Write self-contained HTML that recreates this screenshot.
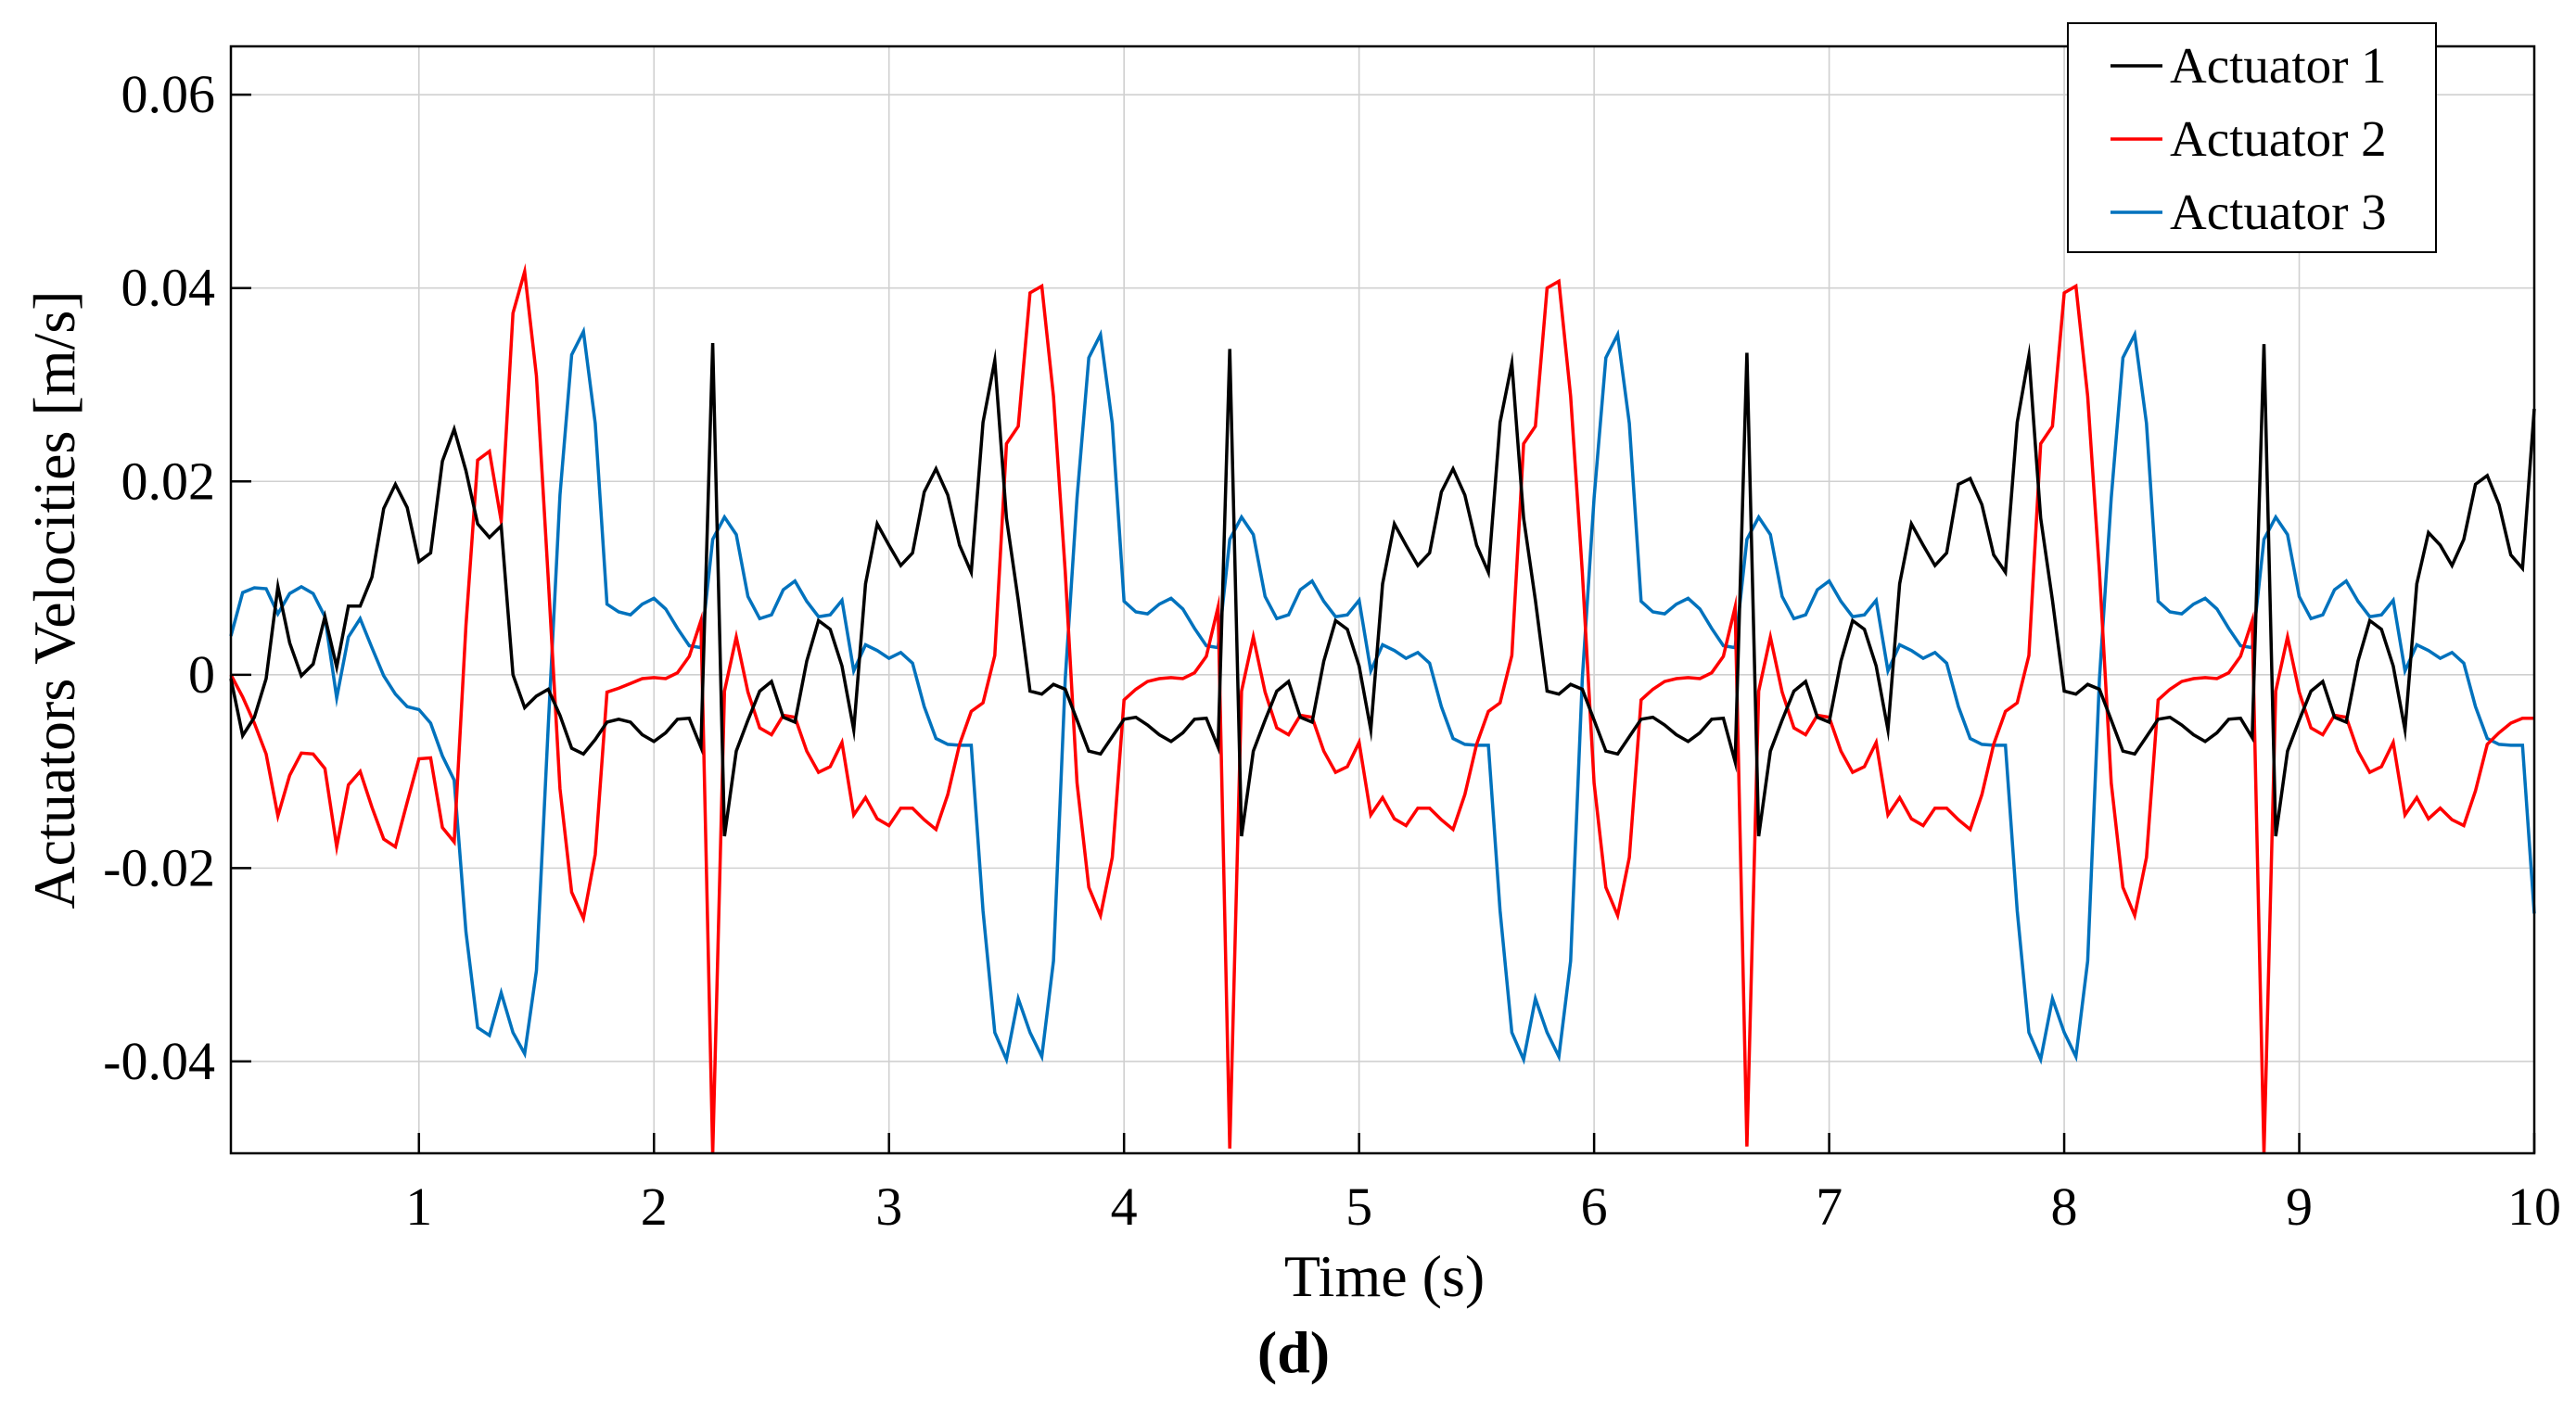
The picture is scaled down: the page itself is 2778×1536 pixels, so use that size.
<!DOCTYPE html>
<html><head><meta charset="utf-8"><style>
html,body{margin:0;padding:0;background:#fff;}
svg{display:block;font-family:"Liberation Serif",serif;}
</style></head>
<body>
<svg id="chart" width="2778" height="1536" viewBox="0 0 2778 1536" xmlns="http://www.w3.org/2000/svg">
<rect x="0" y="0" width="2778" height="1536" fill="#fff"/>
<g id="grid"></g>
<g id="series"></g>
<rect x="249" y="50" width="2484" height="1194" fill="none" stroke="#000" stroke-width="2.5"/>
<g id="ticks"></g>
<text x="1493" y="1398" font-size="64" text-anchor="middle">Time (s)</text>
<text transform="translate(80,647) rotate(-90)" font-size="64" text-anchor="middle">Actuators Velocities [m/s]</text>
<text x="1395" y="1480" font-size="64" font-weight="bold" text-anchor="middle">(d)</text>
<g>
<rect x="2230" y="25" width="397" height="247" fill="#fff" stroke="#000" stroke-width="2"/>
<line x1="2276" y1="71" x2="2332" y2="71" stroke="#000" stroke-width="3.5"/>
<text x="2340" y="89" font-size="55">Actuator 1</text>
<line x1="2276" y1="150" x2="2332" y2="150" stroke="#ff0000" stroke-width="3.5"/>
<text x="2340" y="168" font-size="55">Actuator 2</text>
<line x1="2276" y1="229" x2="2332" y2="229" stroke="#0072bd" stroke-width="3.5"/>
<text x="2340" y="247" font-size="55">Actuator 3</text>
</g>
</svg>
<script>
// values in units of 0.01 m/s, sampled every 0.05 s starting at t = 0.2 s
const startTime = 0.2;
const timeStep = 0.05;
const xTicks = [1,2,3,4,5,6,7,8,9,10];
const xTickLabels = ["1","2","3","4","5","6","7","8","9","10"];
const yTicks = [-0.04,-0.02,0,0.02,0.04,0.06];
const yTickLabels = ["-0.04","-0.02","0","0.02","0.04","0.06"];
const actuator1 = [-0.04,-0.63,-0.44,-0.04,0.91,0.33,-0.01,0.11,0.6,0.08,0.71,0.71,1.01,1.72,1.97,1.73,1.17,1.26,2.21,2.54,2.11,1.56,1.42,1.54,0,-0.34,-0.22,-0.15,-0.42,-0.76,-0.82,-0.67,-0.49,-0.46,-0.49,-0.62,-0.69,-0.6,-0.46,-0.45,-0.75,
3.43,-1.67,-0.79,-0.47,-0.17,-0.07,-0.44,-0.49,0.14,0.56,0.47,0.09,-0.57,0.94,1.56,1.34,1.13,1.26,1.89,2.13,1.86,1.34,1.06,2.61,3.25,1.62,0.77,-0.17,-0.2,-0.1,-0.15,-0.47,-0.79,-0.82,-0.64,-0.46,-0.44,-0.52,-0.62,-0.69,-0.6,-0.46,-0.45,-0.75,
3.37,-1.67,-0.79,-0.47,-0.17,-0.07,-0.44,-0.49,0.14,0.56,0.47,0.09,-0.57,0.94,1.56,1.34,1.13,1.26,1.89,2.13,1.86,1.34,1.06,2.61,3.22,1.62,0.77,-0.17,-0.2,-0.1,-0.15,-0.47,-0.79,-0.82,-0.64,-0.46,-0.44,-0.52,-0.62,-0.69,-0.6,-0.46,-0.45,-0.9,
3.33,-1.67,-0.79,-0.47,-0.17,-0.07,-0.44,-0.49,0.14,0.56,0.47,0.09,-0.57,0.94,1.56,1.34,1.13,1.26,1.97,2.03,1.76,1.24,1.06,2.61,3.3,1.62,0.77,-0.17,-0.2,-0.1,-0.15,-0.47,-0.79,-0.82,-0.64,-0.46,-0.44,-0.52,-0.62,-0.69,-0.6,-0.46,-0.45,-0.65,
3.42,-1.67,-0.79,-0.47,-0.17,-0.07,-0.44,-0.49,0.14,0.56,0.47,0.09,-0.57,0.94,1.47,1.34,1.13,1.4,1.97,2.06,1.76,1.24,1.1,2.75];
const actuator2 = [0,-0.23,-0.5,-0.82,-1.46,-1.04,-0.81,-0.82,-0.97,-1.78,-1.14,-1.0,-1.37,-1.7,-1.78,-1.32,-0.87,-0.86,-1.58,-1.73,0.51,2.22,2.31,1.59,3.74,4.17,3.09,1.0,-1.18,-2.25,-2.52,-1.86,-0.18,-0.14,-0.09,-0.04,-0.03,-0.04,0.02,0.19,0.56,
-4.96,-0.17,0.39,-0.18,-0.55,-0.62,-0.42,-0.44,-0.79,-1.01,-0.95,-0.7,-1.45,-1.27,-1.49,-1.56,-1.38,-1.38,-1.5,-1.6,-1.24,-0.72,-0.38,-0.29,0.2,2.39,2.57,3.95,4.02,2.88,1.06,-1.12,-2.2,-2.49,-1.89,-0.26,-0.15,-0.07,-0.04,-0.03,-0.04,0.02,0.19,0.7,
-4.9,-0.17,0.39,-0.18,-0.55,-0.62,-0.42,-0.44,-0.79,-1.01,-0.95,-0.7,-1.45,-1.27,-1.49,-1.56,-1.38,-1.38,-1.5,-1.6,-1.24,-0.72,-0.38,-0.29,0.2,2.39,2.57,4.0,4.07,2.88,1.06,-1.12,-2.2,-2.49,-1.89,-0.26,-0.15,-0.07,-0.04,-0.03,-0.04,0.02,0.19,0.7,
-4.88,-0.17,0.39,-0.18,-0.55,-0.62,-0.42,-0.44,-0.79,-1.01,-0.95,-0.7,-1.45,-1.27,-1.49,-1.56,-1.38,-1.38,-1.5,-1.6,-1.24,-0.72,-0.38,-0.29,0.2,2.39,2.57,3.95,4.02,2.88,1.06,-1.12,-2.2,-2.49,-1.89,-0.26,-0.15,-0.07,-0.04,-0.03,-0.04,0.02,0.19,0.56,
-4.96,-0.17,0.39,-0.18,-0.55,-0.62,-0.42,-0.44,-0.79,-1.01,-0.95,-0.7,-1.45,-1.27,-1.49,-1.38,-1.5,-1.56,-1.2,-0.72,-0.6,-0.5,-0.45,-0.45];
const actuator3 = [0.4,0.85,0.9,0.89,0.63,0.84,0.91,0.84,0.6,-0.24,0.39,0.58,0.28,-0.01,-0.2,-0.33,-0.36,-0.5,-0.84,-1.09,-2.66,-3.65,-3.73,-3.29,-3.7,-3.92,-3.06,-0.54,1.86,3.31,3.55,2.6,0.73,0.65,0.62,0.73,0.79,0.68,0.48,0.3,0.28,
1.4,1.63,1.45,0.81,0.58,0.62,0.88,0.97,0.76,0.6,0.62,0.77,0.04,0.31,0.25,0.17,0.23,0.12,-0.33,-0.66,-0.72,-0.73,-0.73,-2.44,-3.7,-3.98,-3.35,-3.7,-3.95,-2.96,-0.04,1.83,3.28,3.52,2.6,0.76,0.65,0.63,0.73,0.79,0.68,0.48,0.3,0.28,
1.4,1.63,1.45,0.81,0.58,0.62,0.88,0.97,0.76,0.6,0.62,0.77,0.04,0.31,0.25,0.17,0.23,0.12,-0.33,-0.66,-0.72,-0.73,-0.73,-2.44,-3.7,-3.98,-3.35,-3.7,-3.95,-2.96,-0.04,1.83,3.28,3.52,2.6,0.76,0.65,0.63,0.73,0.79,0.68,0.48,0.3,0.28,
1.4,1.63,1.45,0.81,0.58,0.62,0.88,0.97,0.76,0.6,0.62,0.77,0.04,0.31,0.25,0.17,0.23,0.12,-0.33,-0.66,-0.72,-0.73,-0.73,-2.44,-3.7,-3.98,-3.35,-3.7,-3.95,-2.96,-0.04,1.83,3.28,3.52,2.6,0.76,0.65,0.63,0.73,0.79,0.68,0.48,0.3,0.28,
1.4,1.63,1.45,0.81,0.58,0.62,0.88,0.97,0.76,0.6,0.62,0.77,0.04,0.31,0.25,0.17,0.23,0.12,-0.33,-0.66,-0.72,-0.73,-0.73,-2.47];

const NS = "http://www.w3.org/2000/svg";
const X0 = 249, X1 = 2733, Y0 = 50, Y1 = 1244;
const tMin = 0.2, tMax = 10, vMin = -0.0495, vMax = 0.065;
function xs(t){ return X0 + (t - tMin) / (tMax - tMin) * (X1 - X0); }
function ys(v){ return Y1 - (v - vMin) / (vMax - vMin) * (Y1 - Y0); }
function mk(tag, attrs, parent){ const e = document.createElementNS(NS, tag); for (const k in attrs) e.setAttribute(k, attrs[k]); parent.appendChild(e); return e; }

const grid = document.getElementById('grid');
const ticks = document.getElementById('ticks');
xTicks.forEach((t, i) => {
  const x = xs(t);
  const g = mk('line', {x1:x, y1:Y0, x2:x, y2:Y1, stroke:'#d0d0d0', 'stroke-width':1.6}, grid);
  
  
  const tk = mk('line', {x1:x, y1:Y1, x2:x, y2:Y1-22, stroke:'#000', 'stroke-width':2.5}, ticks);
  
  
  const lb = mk('text', {x:x, y:1321, 'font-size':58, 'text-anchor':'middle'}, ticks);
  lb.textContent = xTickLabels[i];
  
  
});
yTicks.forEach((v, i) => {
  const y = ys(v);
  const g = mk('line', {x1:X0, y1:y, x2:X1, y2:y, stroke:'#d0d0d0', 'stroke-width':1.6}, grid);
  
  
  const tk = mk('line', {x1:X0, y1:y, x2:X0+22, y2:y, stroke:'#000', 'stroke-width':2.5}, ticks);
  
  
  const lb = mk('text', {x:232, y:y+19, 'font-size':58, 'text-anchor':'end'}, ticks);
  lb.textContent = yTickLabels[i];
  
  
});

const seriesG = document.getElementById('series');
function drawSeries(vals, color, name){
  const pts = vals.map((v, i) => xs(startTime + i * timeStep).toFixed(1) + ',' + ys(v / 100).toFixed(1)).join(' ');
  const pl = mk('polyline', {points:pts, fill:'none', stroke:color, 'stroke-width':3.5, 'stroke-linejoin':'miter', 'stroke-miterlimit':10}, seriesG);
  
  
}
drawSeries(actuator3, '#0072bd', 'actuator-3-line');
drawSeries(actuator2, '#ff0000', 'actuator-2-line');
drawSeries(actuator1, '#000000', 'actuator-1-line');
</script>
</body></html>
